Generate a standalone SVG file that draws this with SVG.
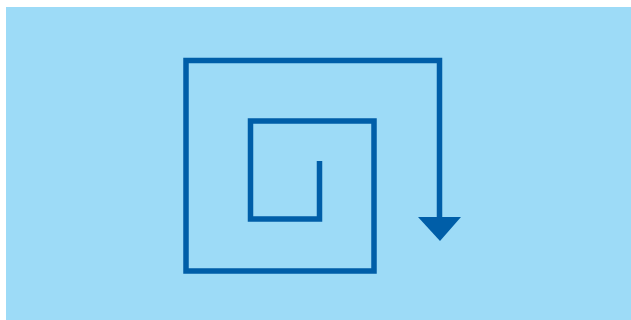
<svg xmlns="http://www.w3.org/2000/svg" width="631" height="320" viewBox="0 0 631 320">
<style>
.spiral{fill:none;stroke:#005ea8;stroke-width:5.5;stroke-linejoin:miter;stroke-linecap:butt}
.head{fill:#005ea8}
</style>
<rect x="0" y="0" width="631" height="320" fill="#ffffff"/>
<rect x="6" y="7" width="625" height="313" fill="#9ddbf7"/>
<g id="connectors">
<path class="spiral" d="M319.5,161 V219 H250.5 V121 H374 V271 H186 V60.5 H439.5 V220"/>
<polygon class="head" points="418,217 461,217 440,241"/>
</g>
</svg>
